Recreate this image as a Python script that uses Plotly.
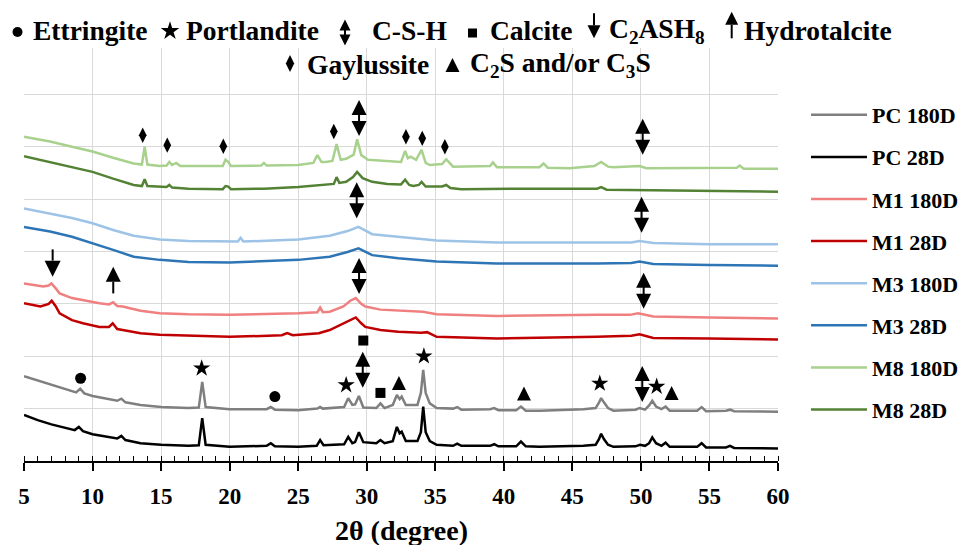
import plotly.graph_objects as go

# ---------------- XRD patterns: (2-theta [deg], offset intensity [a.u.]) ----------------
PC_180D = [(5.0,1.62),(6.0,1.54),(7.0,1.45),(8.0,1.37),(8.8,1.31),(9.1,1.38),(9.4,1.29),(10.0,1.24),
           (11.0,1.19),(11.8,1.15),(12.1,1.19),(12.4,1.12),(13.5,1.07),(15.0,1.03),(17.0,1.01),(17.75,1.02),
           (18.0,1.51),(18.25,1.03),(20.0,0.99),(22.7,0.99),(23.0,1.03),(23.3,0.98),(25.0,0.97),(26.4,1.00),
           (26.6,1.03),(26.8,1.00),(28.35,1.03),(28.65,1.20),(28.95,1.07),(29.15,1.08),(29.43,1.24),(29.75,1.02),
           (30.7,1.01),(31.0,1.10),(31.3,1.01),(31.9,1.07),(32.2,1.26),(32.4,1.18),(32.55,1.23),(32.85,1.07),
           (33.7,1.07),(33.95,1.30),(34.12,1.74),(34.3,1.30),(34.6,1.10),(35.1,1.01),(36.3,1.00),(36.6,1.03),
           (36.9,0.98),(39.0,0.99),(39.3,1.01),(39.6,0.97),(40.9,0.97),(41.25,1.04),(41.6,0.96),(42.6,0.96),
           (45.8,0.99),(46.7,1.01),(46.95,1.12),(47.1,1.20),(47.3,1.12),(47.6,1.01),(48.0,0.96),(49.6,0.98),
           (49.9,1.01),(50.3,0.98),(50.6,1.06),(50.83,1.15),(51.1,1.04),(51.5,0.99),(51.8,1.04),(52.1,0.96),
           (54.1,0.96),(54.43,1.03),(54.75,0.95),(56.2,0.96),(56.5,0.98),(56.8,0.95),(60.0,0.94)]

PC_28D = [(5.0,0.88),(6.0,0.78),(7.0,0.70),(8.0,0.63),(8.7,0.59),(9.0,0.65),(9.3,0.57),(10.0,0.51),
          (11.0,0.46),(11.8,0.43),(12.1,0.48),(12.4,0.40),(13.5,0.34),(15.0,0.31),(17.0,0.29),(17.75,0.30),
          (18.0,0.82),(18.25,0.31),(20.0,0.27),(22.7,0.29),(23.0,0.34),(23.3,0.28),(25.0,0.27),(26.35,0.29),
          (26.6,0.40),(26.85,0.30),(28.35,0.32),(28.65,0.46),(28.95,0.34),(29.15,0.36),(29.43,0.55),(29.75,0.36),
          (30.7,0.34),(31.0,0.40),(31.3,0.34),(31.9,0.38),(32.2,0.65),(32.4,0.53),(32.55,0.56),(32.85,0.38),
          (33.7,0.38),(33.95,0.55),(34.12,1.04),(34.3,0.55),(34.6,0.38),(35.1,0.31),(36.3,0.29),(36.6,0.33),
          (36.9,0.29),(39.0,0.29),(39.3,0.32),(39.6,0.28),(40.9,0.28),(41.25,0.37),(41.6,0.28),(42.6,0.27),
          (45.8,0.29),(46.7,0.31),(46.95,0.42),(47.1,0.52),(47.3,0.42),(47.6,0.31),(48.0,0.27),(49.6,0.28),
          (49.93,0.31),(50.3,0.29),(50.6,0.34),(50.83,0.45),(51.1,0.34),(51.5,0.29),(51.8,0.35),(52.1,0.27),
          (54.1,0.27),(54.43,0.34),(54.75,0.26),(56.2,0.26),(56.5,0.29),(56.8,0.25),(60.0,0.24)]

M1_180D = [(5.0,3.39),(6.4,3.33),(6.8,3.35),(7.0,3.39),(7.3,3.30),(7.6,3.20),(8.5,3.11),(9.3,3.07),
           (10.5,3.01),(11.2,2.99),(11.5,3.03),(11.8,2.96),(12.2,2.95),(13.5,2.87),(14.9,2.82),(17.0,2.80),
           (20.0,2.79),(25.0,2.82),(26.4,2.84),(26.6,2.93),(26.8,2.84),(27.3,2.85),(28.3,2.95),(28.8,3.06),
           (29.2,3.11),(29.6,3.00),(29.9,2.95),(31.0,2.89),(32.3,2.87),(34.1,2.85),(35.1,2.80),(39.5,2.77),
           (46.8,2.79),(49.2,2.79),(49.8,2.82),(50.9,2.76),(55.0,2.74),(60.0,2.72)]

M1_28D = [(5.0,3.01),(6.2,2.95),(6.8,3.00),(7.02,3.06),(7.3,2.96),(7.6,2.82),(8.5,2.69),(9.3,2.63),
          (10.5,2.56),(11.2,2.56),(11.47,2.63),(11.8,2.52),(12.2,2.50),(13.5,2.44),(14.9,2.41),(17.0,2.39),
          (20.0,2.37),(23.8,2.40),(24.2,2.44),(24.6,2.40),(25.0,2.41),(26.5,2.44),(27.3,2.50),(28.3,2.63),
          (28.8,2.70),(29.2,2.74),(29.6,2.63),(29.9,2.56),(31.0,2.50),(32.3,2.47),(34.0,2.45),(34.4,2.46),
          (35.1,2.37),(39.5,2.34),(46.8,2.37),(49.3,2.39),(49.9,2.42),(50.9,2.35),(55.0,2.34),(60.0,2.32)]

M3_180D = [(5.0,4.82),(6.9,4.73),(8.5,4.64),(10.0,4.54),(11.5,4.41),(13.0,4.30),(14.9,4.23),(17.0,4.20),
           (20.0,4.19),(20.6,4.19),(20.8,4.26),(21.0,4.19),(25.0,4.23),(27.3,4.30),(28.6,4.39),(29.4,4.47),
           (30.4,4.33),(32.3,4.28),(35.1,4.21),(39.5,4.17),(46.8,4.17),(49.3,4.17),(49.9,4.20),(50.9,4.16),
           (55.0,4.14),(60.0,4.14)]

M3_28D = [(5.0,4.47),(6.9,4.38),(8.5,4.28),(10.0,4.16),(11.5,4.03),(13.0,3.90),(14.9,3.84),(17.0,3.80),
          (20.0,3.79),(25.0,3.84),(27.3,3.90),(28.6,3.99),(29.4,4.06),(30.4,3.93),(32.3,3.87),(35.1,3.81),
          (39.5,3.77),(46.8,3.77),(49.3,3.78),(49.9,3.81),(50.9,3.76),(55.0,3.74),(60.0,3.73)]

M8_180D = [(5.0,6.19),(6.9,6.10),(8.5,6.00),(10.0,5.91),(11.5,5.79),(13.0,5.68),(13.6,5.66),(13.8,6.00),
           (14.0,5.66),(14.9,5.63),(15.4,5.64),(15.6,5.71),(15.8,5.65),(16.1,5.69),(16.4,5.63),(19.5,5.63),
           (19.7,5.75),(19.9,5.71),(20.1,5.63),(22.3,5.64),(22.5,5.69),(22.7,5.64),(25.0,5.65),(26.1,5.69),
           (26.4,5.84),(26.7,5.71),(27.0,5.71),(27.5,5.73),(27.8,6.05),(28.1,5.75),(28.5,5.77),(29.05,5.85),
           (29.3,6.14),(29.6,5.84),(30.1,5.75),(31.5,5.73),(32.5,5.71),(32.8,5.92),(33.0,5.78),(33.2,5.81),
           (33.6,5.75),(34.0,5.94),(34.3,5.69),(34.6,5.65),(35.5,5.67),(35.8,5.76),(36.3,5.62),(39.0,5.63),
           (39.2,5.70),(39.5,5.61),(42.6,5.61),(42.9,5.68),(43.2,5.60),(44.8,5.59),(46.6,5.63),(47.1,5.71),
           (47.6,5.62),(48.0,5.61),(49.9,5.63),(50.4,5.59),(54.3,5.59),(57.0,5.60),(57.2,5.64),(57.5,5.58),
           (60.0,5.58)]

M8_28D = [(5.0,5.82),(6.9,5.71),(8.5,5.62),(10.0,5.52),(11.5,5.39),(13.0,5.27),(13.6,5.25),(13.8,5.38),
          (14.0,5.25),(14.9,5.24),(15.4,5.23),(15.6,5.27),(15.8,5.22),(17.0,5.20),(19.5,5.19),(19.7,5.25),
          (19.9,5.24),(20.1,5.19),(22.5,5.20),(25.0,5.23),(27.3,5.29),(27.6,5.29),(27.8,5.42),(28.0,5.31),
          (28.5,5.33),(29.0,5.42),(29.3,5.52),(29.7,5.40),(30.4,5.33),(31.5,5.29),(32.5,5.28),(32.8,5.37),
          (33.1,5.27),(33.4,5.25),(33.8,5.27),(34.0,5.33),(34.3,5.24),(35.5,5.24),(35.8,5.27),(36.1,5.21),
          (36.9,5.19),(39.5,5.20),(42.9,5.20),(46.8,5.20),(47.1,5.23),(47.5,5.18),(49.9,5.17),(54.3,5.16),
          (60.0,5.14)]

SERIES_NAMES = ["PC 180D", "PC 28D", "M1 180D", "M1 28D", "M3 180D", "M3 28D", "M8 180D", "M8 28D"]
SERIES_DATA = [PC_180D, PC_28D, M1_180D, M1_28D, M3_180D, M3_28D, M8_180D, M8_28D]
SERIES_COLORS = ["#7F7F7F", "#000000", "#F08080", "#C00000", "#9DC3E6", "#2E75B6", "#A9D18E", "#548235"]

# ---------------- phase markers (2-theta, label height in a.u.) ----------------
ETTRINGITE_X = [9.13, 23.3];                 ETTRINGITE_Y = [1.58, 1.23]
PORTLANDITE_X = [17.96, 28.5, 34.17, 47.0, 51.15]; PORTLANDITE_Y = [1.77, 1.45, 2.00, 1.48, 1.42]
CALCITE_X = [29.75, 31.0];                   CALCITE_Y = [2.30, 1.30]
C2S_C3S_X = [32.35, 41.47, 52.24];           C2S_C3S_Y = [1.49, 1.29, 1.30]
GAYLUSSITE_X = [13.66, 15.45, 19.54, 27.6, 32.86, 34.05, 35.7]
GAYLUSSITE_Y = [6.22, 6.03, 6.01, 6.29, 6.19, 6.16, 6.00]
CSH_X = [29.44, 50.13, 29.27, 50.05, 29.44, 50.2, 29.71, 50.1]
CSH_Y = [6.55, 6.19, 4.98, 4.70, 3.53, 3.25, 1.74, 1.47]
C2ASH8_X, C2ASH8_TIP, C2ASH8_TAIL = 7.09, 3.52, 4.04
HYDRO_X, HYDRO_TIP, HYDRO_TAIL = 11.51, 3.71, 3.20

X_TICKS = [5, 10, 15, 20, 25, 30, 35, 40, 45, 50, 55, 60]

# ---------------- layout geometry (pixels) ----------------
FONT = "Liberation Serif"
W, H = 963, 545
PL, PR, PT, PB = 24, 778, 48, 461          # plot-area edges
X_RANGE = [5, 60]
Y_RANGE = [0, 7.885]
PPY = (PB - PT) / (Y_RANGE[1] - Y_RANGE[0])


def fx(px):
    return px / W


def fy(py):
    return 1 - py / H


fig = go.Figure()

for name, pts, col in zip(SERIES_NAMES, SERIES_DATA, SERIES_COLORS):
    fig.add_trace(go.Scatter(
        x=[p[0] for p in pts], y=[p[1] for p in pts], mode="lines", name=name,
        legendgroup=name, line=dict(color=col, width=2.5), hoverinfo="skip"))


def marks(xs, ys, symbol, size, stroke=0, axes=("x", "y")):
    fig.add_trace(go.Scatter(
        x=list(xs), y=list(ys), mode="markers", showlegend=False, hoverinfo="skip", cliponaxis=False,
        xaxis=axes[0], yaxis=axes[1],
        marker=dict(symbol=symbol, size=size, color="black",
                    line=dict(width=stroke, color="black"))))


def arrow(x, tip, tail, size, up, unit, axes=("x", "y")):
    """Filled-head arrow; unit = data units per screen pixel upward."""
    marks([x], [tip], "arrow-up" if up else "arrow-down", size, axes=axes)
    base = tip - size * unit if up else tip + size * unit
    length_px = abs(tail - base) / abs(unit)
    marks([x], [(tail + base) / 2], "line-ns", length_px / 1.4, stroke=2, axes=axes)


def double_arrow(x, yc, half_px, size, gap_px, unit, axes=("x", "y")):
    marks([x], [yc + half_px * unit], "arrow-up", size, axes=axes)
    marks([x], [yc - half_px * unit], "arrow-down", size, axes=axes)
    marks([x], [yc], "line-ns", gap_px / 1.4, stroke=2, axes=axes)


U = 1 / PPY  # main y axis: data units per pixel
# peak labels on the patterns
marks(ETTRINGITE_X, ETTRINGITE_Y, "circle", 11)
marks(PORTLANDITE_X, PORTLANDITE_Y, "star", 13)
marks(CALCITE_X, CALCITE_Y, "square", 10)
marks(C2S_C3S_X, [y + 7 * U for y in C2S_C3S_Y], "arrow-up", 14)
marks(GAYLUSSITE_X, GAYLUSSITE_Y, "diamond-tall", 11)
for x, y in zip(CSH_X, CSH_Y):
    double_arrow(x, y, 18, 15, 8, U)
arrow(C2ASH8_X, C2ASH8_TIP, C2ASH8_TAIL, 16, False, U)
arrow(HYDRO_X, HYDRO_TIP, HYDRO_TAIL, 15, True, U)

# key symbols of the header (overlay axes in page pixels, y downward)
K = ("x2", "y2")
marks([17.5], [32], "circle", 10, axes=K)
marks([170], [31], "star", 14, axes=K)
double_arrow(345, 32.5, 13, 11, 6, -1.0, axes=K)
marks([472.5], [33], "square", 9, axes=K)
arrow(594, 38.3, 13.3, 13, False, -1.0, axes=K)
arrow(731.7, 11.7, 38.3, 13, True, -1.0, axes=K)
marks([290], [63.5], "diamond-tall", 12, axes=K)
marks([452.5], [58], "arrow-up", 14, axes=K)

HEADER_TEXT = [("Ettringite", 31, 30), ("Portlandite", 184, 30), ("C-S-H", 370, 30),
               ("Calcite", 487.5, 30), ("C<sub>2</sub>ASH<sub>8</sub>", 606.7, 30),
               ("Hydrotalcite", 742, 30), ("Gaylussite", 305, 64),
               ("C<sub>2</sub>S and/or C<sub>3</sub>S", 467.5, 64)]
annotations = [dict(text=t, x=fx(px), y=fy(py), xref="paper", yref="paper",
                    xanchor="left", yanchor="middle", showarrow=False,
                    font=dict(family=FONT, size=27.5, color="black", weight="bold"))
               for t, px, py in HEADER_TEXT]
annotations.append(dict(text="2θ (degree)", x=fx(401.5), y=fy(530), xref="paper", yref="paper",
                        xanchor="center", yanchor="middle", showarrow=False,
                        font=dict(family=FONT, size=28, color="black", weight="bold")))

fig.update_layout(
    width=W, height=H, margin=dict(l=0, r=0, t=0, b=0, autoexpand=False),
    plot_bgcolor="rgba(0,0,0,0)", paper_bgcolor="white",
    annotations=annotations,
    xaxis=dict(domain=[fx(PL), fx(PR)], range=X_RANGE, tickmode="array", tickvals=X_TICKS,
               ticktext=[str(v) for v in X_TICKS],
               showgrid=True, gridcolor="#D9D9D9", gridwidth=1, zeroline=False,
               showline=True, linecolor="black", linewidth=1.5,
               ticks="outside", ticklen=8, tickwidth=1.5, tickcolor="black",
               minor=dict(ticks="inside", ticklen=5, tickwidth=1, tickcolor="black",
                          tickmode="linear", tick0=5, dtick=1, showgrid=False),
               tickfont=dict(family=FONT, size=23, color="black", weight="bold"),
               ticklabelstandoff=6, automargin=False),
    # inner half of the major ticks (they cross the axis line in the original)
    xaxis3=dict(overlaying="x", anchor="y", range=X_RANGE, tickmode="array", tickvals=X_TICKS,
                showticklabels=False, showgrid=False, zeroline=False, showline=False,
                ticks="inside", ticklen=5, tickwidth=1.5, tickcolor="black", automargin=False),
    yaxis=dict(domain=[fy(PB), fy(PT)], range=Y_RANGE, tickmode="linear", tick0=0, dtick=1,
               showticklabels=False, ticks="",
               showgrid=True, gridcolor="#D9D9D9", gridwidth=1, zeroline=False, showline=False,
               automargin=False),
    xaxis2=dict(domain=[0, 1], range=[0, W], visible=False, anchor="y2", fixedrange=True),
    yaxis2=dict(domain=[0, 1], range=[H, 0], visible=False, anchor="x2", fixedrange=True),
    legend=dict(x=fx(806), y=fy(94), xanchor="left", yanchor="top",
                font=dict(family=FONT, size=22, color="black", weight="bold"),
                itemwidth=56, tracegroupgap=10.5, bgcolor="rgba(0,0,0,0)"),
    showlegend=True,
)

fig.write_html("out.html", config={"displayModeBar": False},
               post_script="document.body.style.margin='0px';")
